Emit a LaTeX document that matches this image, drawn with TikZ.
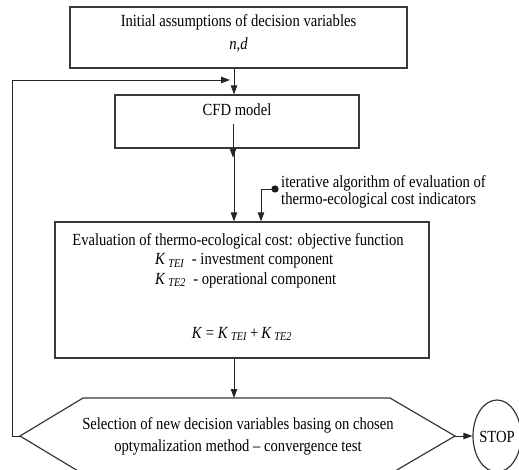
\documentclass[tikz,border=0pt]{standalone}
\usepackage{fontspec}
\setmainfont[FakeStretch=0.86]{Liberation Serif}
\usetikzlibrary{arrows.meta,shapes.geometric}

\tikzset{
  box/.style={draw=black!78, line width=1.2pt, inner sep=0pt},
  txt/.style={font=\fontsize{17}{16.5}\selectfont, inner sep=0pt, align=center},
  flow/.style={draw=black!85, line width=0.9pt, -{Triangle[length=9pt,width=6.5pt]}}
}

\begin{document}
\begin{tikzpicture}[x=1pt,y=-1pt]
\useasboundingbox (0,0) rectangle (519,470);

% main column of boxes
\node[box, minimum width=337pt, minimum height=61pt] (init) at (238.5,37.5) {};
\node[txt, font=\fontsize{17}{23}\selectfont] (initT) at (238.5,33) {Initial assumptions of decision variables\\\textit{n,d}};

\node[box, minimum width=244pt, minimum height=53pt] (cfd) at (237,121.5) {};
\node[txt] (cfdT) at (237,110) {CFD model};

\node[box, minimum width=374pt, minimum height=136pt] (eval) at (242,290) {};
\node[txt] (evalT) at (238,241) {Evaluation of thermo-ecological cost: objective function};
\node[txt, anchor=west] (kone) at (155,261) {\textit{K}\,\textsubscript{\textit{TEI}}\ \ - investment component};
\node[txt, anchor=west] (ktwo) at (155,280) {\textit{K}\,\textsubscript{\textit{TE2}}\ \ - operational component};
\node[txt] (ksum) at (242,334) {\textit{K} = \textit{K}\,\textsubscript{\textit{TEI}}\,+\,\textit{K}\,\textsubscript{\textit{TE2}}};

% decision block
\coordinate (hexW) at (20,436);
\coordinate (hexE) at (455,436);
\coordinate (hexN) at (238,398);
\draw[box] (hexW) -- (83,398) -- (390,398) -- (hexE) -- (390,474) -- (83,474) -- cycle;
\node[txt, font=\fontsize{17}{22}\selectfont] (select) at (238,436) {Selection of new decision variables basing on chosen\\optymalization method -- convergence test};

\node[box, ellipse, minimum width=48pt, minimum height=72pt] (stop) at (497,436) {};
\node[txt] (stopT) at (497,437) {STOP};

% side input
\node[txt, anchor=west, align=left] (iterT) at (281,192) {iterative algorithm of evaluation of\\thermo-ecological cost indicators};
\coordinate (dot) at (275,189);
\coordinate (iterx) at (261,189);
\fill[black!90] (dot) circle (3.6pt);

% connectors
\coordinate (axis) at (234,0);
\coordinate (back) at (12,80);
\coordinate (inner) at (233,124);
\draw[flow] (init.south -| axis) -- (cfd.north -| axis);
\draw[flow, shorten >=4pt] (hexW) -- (hexW -| back) -- (back) -- (back -| axis);
\draw[flow] (inner) -- ([yshift=-9pt]cfd.south -| inner);
\draw[flow] (cfd.south -| axis) -- (eval.north -| axis);
\draw[flow] (dot) -- (iterx) -- (eval.north -| iterx);
\draw[flow] (eval.south -| axis) -- (hexN -| axis);
\draw[flow] (hexE) -- (stop.west);
\end{tikzpicture}
\end{document}
